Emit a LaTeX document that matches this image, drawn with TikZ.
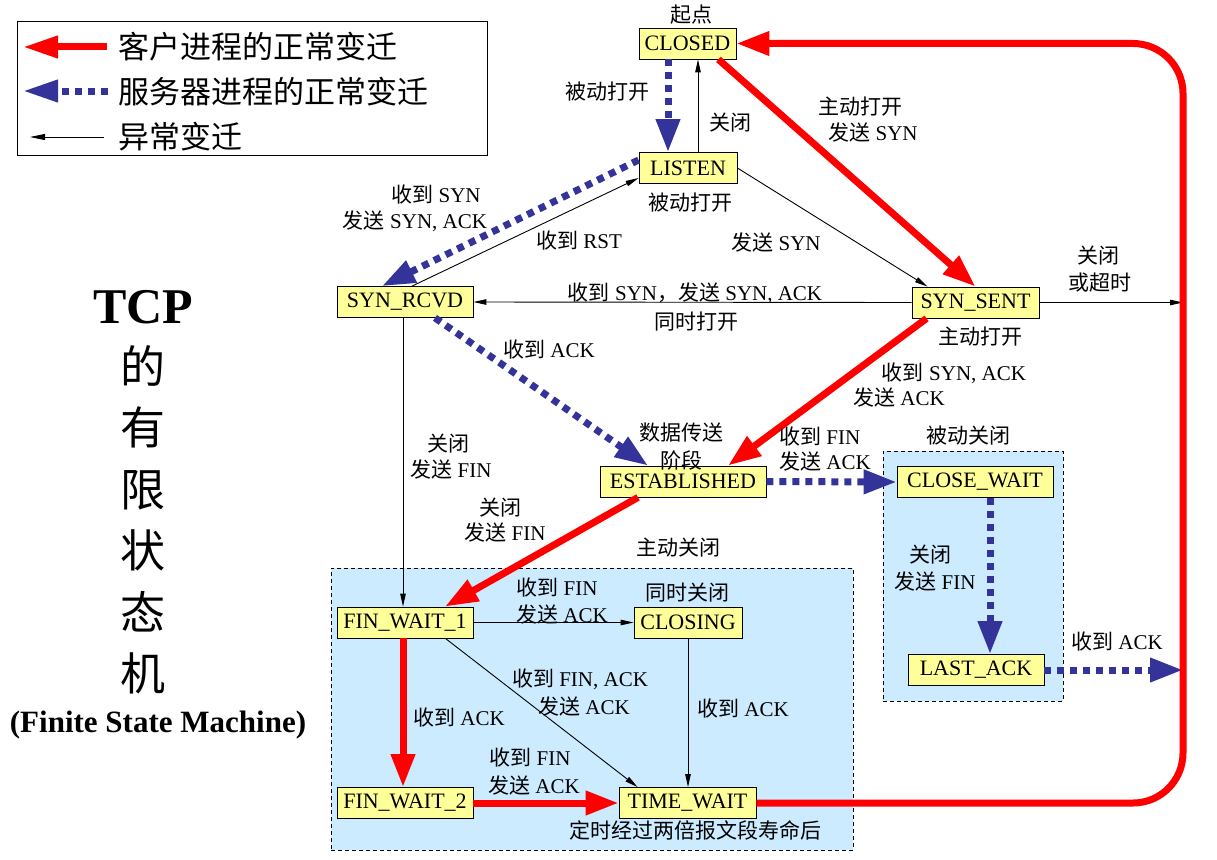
\documentclass[tikz,border=0pt]{standalone}
\usepackage{fontspec}
\setmainfont{Liberation Serif}
\newfontfamily\cjk{Noto Sans CJK SC}
\usetikzlibrary{arrows.meta,calc}
\definecolor{redc}{HTML}{FF0000}
\definecolor{bluec}{HTML}{333399}
\definecolor{boxc}{HTML}{FFFF99}
\definecolor{regc}{HTML}{CCEBFF}
\newcommand\zh[1]{{\cjk #1}}
\tikzset{
  statebox/.style={draw=black, fill=boxc, minimum height=31pt, inner xsep=2pt, inner ysep=0pt, line width=0.8pt, font=\fontsize{22}{26}\selectfont},
  lbl/.style={inner sep=0pt, font=\fontsize{21}{26}\selectfont},
  redarr/.style={draw=redc, line width=7pt, -{Triangle[length=33pt,width=23pt]}},
  bluearr/.style={draw=bluec, line width=7pt, dash pattern=on 7pt off 6pt, -{Triangle[length=33pt,width=23pt]}},
  thinarr/.style={draw=black, line width=0.9pt, -{Triangle[length=13pt,width=5.5pt]}},
  region/.style={draw=black, dashed, dash pattern=on 4pt off 3pt, fill=regc, line width=0.8pt},
  legtext/.style={inner sep=0pt, anchor=west, font=\fontsize{31}{36}\selectfont\cjk},
}
\begin{document}
\begin{tikzpicture}[x=1pt,y=-1pt]
\useasboundingbox (0,0) rectangle (1217,859);
\fill[white] (0,0) rectangle (1217,859);

% legend
\node[draw=black, line width=0.9pt, minimum width=470pt, minimum height=134pt, inner sep=0pt] (legend) at (252,88) {};
\coordinate (l1a) at (107,47); \coordinate (l1b) at (23,47);
\coordinate (l2a) at (108,91); \coordinate (l2b) at (23,91);
\coordinate (l3a) at (104,137); \coordinate (l3b) at (30,137);
\draw[redarr, -{Triangle[length=35pt,width=21pt]}] (l1a) -- (l1b);
\draw[bluearr, -{Triangle[length=35pt,width=21pt]}] (l2a) -- (l2b);
\draw[thinarr, -{Triangle[length=15pt,width=6pt]}] (l3a) -- (l3b);
\node[legtext] (lt1) at (118,47) {客户进程的正常变迁};
\node[legtext] (lt2) at (118,92) {服务器进程的正常变迁};
\node[legtext] (lt3) at (118,137) {异常变迁};

% title
\node[inner sep=0pt, font=\fontsize{50}{55}\bfseries\selectfont] (tcp) at (143,307) {TCP};
\node[inner sep=0pt, align=center, font=\fontsize{45}{61.5}\selectfont\cjk] (fsm) at (143,520) {的\\有\\限\\状\\态\\机};
\node[inner sep=0pt, font=\fontsize{31}{36}\bfseries\selectfont] (fsmen) at (158,725) {(Finite State Machine)};

% regions
\node[region, minimum width=522pt, minimum height=282pt, inner sep=0pt] (active) at (592,709) {};
\node[region, minimum width=180pt, minimum height=250pt, inner sep=0pt] (passive) at (973,576) {};

% states
\node[statebox, minimum width=97pt] (closed) at (687.5,43.5) {CLOSED};
\node[statebox, minimum width=98pt] (listen) at (688,168) {LISTEN};
\node[statebox, minimum width=136pt] (synrcvd) at (405,302) {SYN\_RCVD};
\node[statebox, minimum width=127pt] (synsent) at (975.5,302.5) {SYN\_SENT};
\node[statebox, minimum width=166pt] (est) at (683,481.5) {ESTABLISHED};
\node[statebox, minimum width=156pt] (closewait) at (975,482) {CLOSE\_WAIT};
\node[statebox, minimum width=136pt] (lastack) at (976,670) {LAST\_ACK};
\node[statebox, minimum width=136pt] (fw1) at (405,622.5) {FIN\_WAIT\_1};
\node[statebox, minimum width=108pt] (closing) at (688,622.5) {CLOSING};
\node[statebox, minimum width=136pt] (fw2) at (405,803) {FIN\_WAIT\_2};
\node[statebox, minimum width=137pt] (timewait) at (687.5,803) {TIME\_WAIT};

\coordinate (rx) at (1183,0);

% connectors
\draw[bluearr] ([xshift=-19.5pt]closed.south) -- ([xshift=-20pt]listen.north);
\draw[thinarr] ([xshift=10pt]listen.north) -- ([xshift=10.5pt]closed.south);
\draw[redarr] ([xshift=-18pt]closed.south east) -- (synsent.north);
\draw[bluearr] ([yshift=8pt]listen.west) -- ([xshift=-23pt]synrcvd.north);
\draw[thinarr] ([xshift=7pt]synrcvd.north) -- ([yshift=-10pt]listen.west);
\draw[thinarr] (listen.east) -- ([xshift=16pt]synsent.north west);
\draw[thinarr] (synsent.west) -- (synrcvd.east);
\draw[thinarr] (synsent.east) -- (synsent.east -| rx);
\draw[redarr] ([xshift=15pt]synsent.south west) -- ([xshift=45pt]est.north);
\draw[bluearr] ([xshift=30pt]synrcvd.south) -- ([xshift=-35pt]est.north);
\draw[thinarr] ([xshift=-2pt]synrcvd.south) -- ([xshift=-2pt]fw1.north);
\draw[redarr] ([xshift=-45pt]est.south) -- ([xshift=40pt]fw1.north);
\draw[bluearr] (est.east) -- (closewait.west);
\draw[bluearr] ([xshift=15pt]closewait.south) -- ([xshift=14pt]lastack.north);
\draw[bluearr] (lastack.east) -- (lastack.east -| rx);
\draw[thinarr] (fw1.east) -- (closing.west);
\draw[redarr] ([xshift=-2pt]fw1.south) -- ([xshift=-2pt]fw2.north);
\draw[thinarr] ([xshift=-28pt]fw1.south east) -- ([xshift=19pt]timewait.north west);
\draw[thinarr] (closing.south) -- (closing.south |- timewait.north);
\draw[redarr] (fw2.east) -- (timewait.west);
\draw[redarr, rounded corners=50pt] (timewait.east) -- (timewait.east -| rx) -- (closed.east -| rx) -- (closed.east);

% labels
\node[lbl] (n1) at (691,15) {\zh{起点}};
\node[lbl] (n2) at (607,92) {\zh{被动打开}};
\node[lbl] (n3) at (730,123) {\zh{关闭}};
\node[lbl] (n4) at (860,107) {\zh{主动打开}};
\node[lbl] (n5) at (873,133) {\zh{发送} SYN};
\node[lbl] (n6) at (436,195) {\zh{收到} SYN};
\node[lbl] (n7) at (415,221) {\zh{发送} SYN, ACK};
\node[lbl] (n8) at (690,203) {\zh{被动打开}};
\node[lbl] (n9) at (579,241) {\zh{收到} RST};
\node[lbl] (n10) at (776,243) {\zh{发送} SYN};
\node[lbl] (n11) at (1098,256) {\zh{关闭}};
\node[lbl] (n12) at (1100,283) {\zh{或超时}};
\node[lbl] (n13) at (695,293) {\zh{收到} SYN\zh{，发送} SYN, ACK};
\node[lbl] (n14) at (696,322) {\zh{同时打开}};
\node[lbl] (n15) at (980,337) {\zh{主动打开}};
\node[lbl] (n16) at (549,350) {\zh{收到} ACK};
\node[lbl] (n17) at (954,373) {\zh{收到} SYN, ACK};
\node[lbl] (n18) at (899,398) {\zh{发送} ACK};
\node[lbl] (n19) at (681,433) {\zh{数据传送}};
\node[lbl] (n20) at (681,460) {\zh{阶段}};
\node[lbl, anchor=west] (n21) at (779,437) {\zh{收到} FIN};
\node[lbl, anchor=west] (n22) at (779,462) {\zh{发送} ACK};
\node[lbl] (n23) at (968,436) {\zh{被动关闭}};
\node[lbl] (n24) at (448,444) {\zh{关闭}};
\node[lbl] (n25) at (451,470) {\zh{发送} FIN};
\node[lbl] (n26) at (500,508) {\zh{关闭}};
\node[lbl] (n27) at (505,533) {\zh{发送} FIN};
\node[lbl] (n28) at (678,548) {\zh{主动关闭}};
\node[lbl] (n29) at (930,555) {\zh{关闭}};
\node[lbl] (n30) at (935,582) {\zh{发送} FIN};
\node[lbl] (n31) at (557,588) {\zh{收到} FIN};
\node[lbl] (n32) at (562,615) {\zh{发送} ACK};
\node[lbl] (n33) at (687,593) {\zh{同时关闭}};
\node[lbl] (n34) at (1117,642) {\zh{收到} ACK};
\node[lbl] (n35) at (580,679) {\zh{收到} FIN, ACK};
\node[lbl] (n36) at (584,706) {\zh{发送} ACK};
\node[lbl] (n37) at (459,718) {\zh{收到} ACK};
\node[lbl] (n38) at (743,709) {\zh{收到} ACK};
\node[lbl] (n39) at (530,758) {\zh{收到} FIN};
\node[lbl] (n40) at (534,785) {\zh{发送} ACK};
\node[lbl] (n41) at (695,830) {\zh{定时经过两倍报文段寿命后}};
\end{tikzpicture}
\end{document}
